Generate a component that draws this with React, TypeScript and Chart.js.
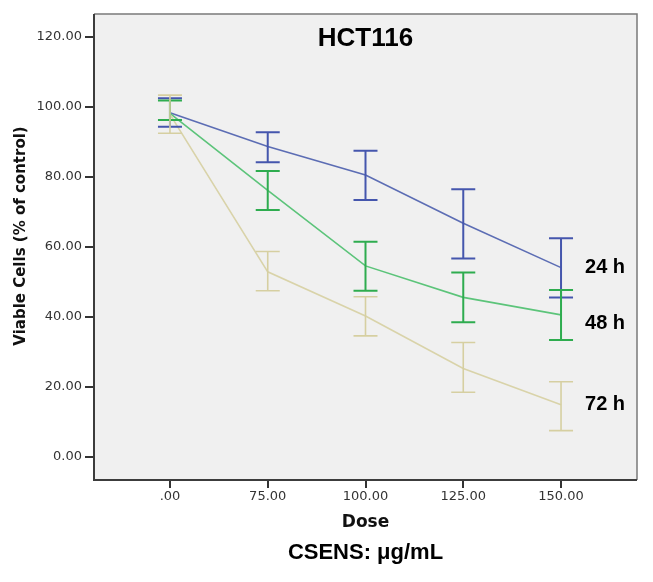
import React, { useEffect, useRef } from "react";
import { Chart, registerables } from "chart.js";

Chart.register(...registerables);

const doseLabels = [".00", "75.00", "100.00", "125.00", "150.00"];
const yTickValues = [0, 20, 40, 60, 80, 100, 120];

const mean24 = [98.4, 88.7, 80.6, 66.8, 54.1];
const low24 = [94.4, 84.2, 73.4, 56.7, 45.6];
const high24 = [102.5, 92.8, 87.5, 76.5, 62.5];

const mean48 = [98.2, 76.2, 54.6, 45.6, 40.6];
const low48 = [96.3, 70.6, 47.5, 38.5, 33.4];
const high48 = [101.9, 81.7, 61.5, 52.7, 47.7];

const mean72 = [97.9, 52.9, 40.3, 25.3, 14.9];
const low72 = [92.5, 47.5, 34.6, 18.5, 7.5];
const high72 = [103.4, 58.7, 45.8, 32.7, 21.5];

const seriesNames = ["24 h", "48 h", "72 h"];

const SERIES = [
  { name: seriesNames[0], mean: mean24, low: low24, high: high24, line: "#5c6db4", bar: "#4556ad", barWidth: 2, labelDy: 0 },
  { name: seriesNames[1], mean: mean48, low: low48, high: high48, line: "#5cc47a", bar: "#2eac4f", barWidth: 2, labelDy: 9 },
  { name: seriesNames[2], mean: mean72, low: low72, high: high72, line: "#d9d3a9", bar: "#d6cfa1", barWidth: 1.6, labelDy: 0 },
];

const plotDecor = {
  id: "plotDecor",
  beforeDraw(chart: any) {
    const { ctx, chartArea } = chart;
    ctx.save();
    ctx.fillStyle = "#f0f0f0";
    ctx.fillRect(chartArea.left, chartArea.top, chartArea.right - chartArea.left, chartArea.bottom - chartArea.top);
    ctx.restore();
  },
  afterDatasetsDraw(chart: any) {
    const { ctx, chartArea, scales } = chart;
    const xs = scales.x;
    const ys = scales.y;
    ctx.save();
    SERIES.forEach((s) => {
      ctx.strokeStyle = s.bar;
      ctx.lineWidth = s.barWidth;
      s.mean.forEach((_, i) => {
        const px = xs.getPixelForValue(i);
        const pl = ys.getPixelForValue(s.low[i]);
        const ph = ys.getPixelForValue(s.high[i]);
        ctx.beginPath();
        ctx.moveTo(px, pl);
        ctx.lineTo(px, ph);
        ctx.moveTo(px - 12, pl);
        ctx.lineTo(px + 12, pl);
        ctx.moveTo(px - 12, ph);
        ctx.lineTo(px + 12, ph);
        ctx.stroke();
      });
    });
    ctx.strokeStyle = "#7a7a7a";
    ctx.lineWidth = 1.5;
    ctx.beginPath();
    ctx.moveTo(chartArea.left, chartArea.top);
    ctx.lineTo(chartArea.right, chartArea.top);
    ctx.lineTo(chartArea.right, chartArea.bottom);
    ctx.stroke();
    ctx.strokeStyle = "#3c3c3c";
    ctx.lineWidth = 2;
    ctx.beginPath();
    ctx.moveTo(chartArea.left, chartArea.top);
    ctx.lineTo(chartArea.left, chartArea.bottom);
    ctx.lineTo(chartArea.right, chartArea.bottom);
    ctx.stroke();
    ctx.restore();
  },
  afterDraw(chart: any) {
    const { ctx, chartArea, scales } = chart;
    const xs = scales.x;
    const ys = scales.y;
    const cx = (chartArea.left + chartArea.right) / 2;
    ctx.save();
    ctx.fillStyle = "#000";
    ctx.textAlign = "center";
    ctx.textBaseline = "middle";
    ctx.font = "bold 26px 'Liberation Sans', Arial, sans-serif";
    ctx.fillText("HCT116", cx, 39);

    ctx.textAlign = "left";
    ctx.font = "bold 20px 'Liberation Sans', Arial, sans-serif";
    SERIES.forEach((s) => {
      const last = s.mean.length - 1;
      const px = xs.getPixelForValue(last) + 24;
      const py = ys.getPixelForValue(s.mean[last]) + s.labelDy;
      ctx.fillText(s.name, px, py);
    });

    ctx.fillStyle = "#111";
    ctx.textAlign = "center";
    ctx.font = "bold 17px 'DejaVu Sans', sans-serif";
    ctx.fillText("Dose", cx, 523);
    ctx.fillStyle = "#000";
    ctx.font = "bold 22px 'Liberation Sans', Arial, sans-serif";
    ctx.fillText("CSENS: \u03bcg/mL", cx, 553);

    ctx.save();
    ctx.translate(21, 236);
    ctx.rotate(-Math.PI / 2);
    ctx.fillStyle = "#111";
    ctx.font = "bold 15px 'DejaVu Sans', sans-serif";
    ctx.fillText("Viable Cells (% of control)", 0, 0);
    ctx.restore();
    ctx.restore();
  },
};

export default function App() {
  const canvasRef = useRef<HTMLCanvasElement | null>(null);

  useEffect(() => {
    const canvas = canvasRef.current;
    if (!canvas) return;
    const chart = new Chart(canvas, {
      type: "line",
      data: {
        datasets: SERIES.slice().reverse().map((s) => ({
          label: s.name,
          data: s.mean.map((v, i) => ({ x: i, y: v })),
          borderColor: s.line,
          backgroundColor: s.line,
          borderWidth: 1.6,
          pointRadius: 0,
          tension: 0,
          fill: false,
        })),
      },
      options: {
        responsive: false,
        animation: false,
        devicePixelRatio: 1,
        layout: { padding: { top: 14, right: 16, left: 0, bottom: 0 } },
        plugins: {
          legend: { display: false },
          title: { display: false },
          tooltip: { enabled: false },
        },
        scales: {
          x: {
            type: "linear",
            min: -0.777,
            max: 4.777,
            afterFit: (scale: any) => {
              scale.height = 102;
            },
            afterBuildTicks: (scale: any) => {
              scale.ticks = doseLabels.map((_, i) => ({ value: i }));
            },
            ticks: {
              callback: (v: any) => doseLabels[Number(v)] ?? "",
              font: { family: "'DejaVu Sans', sans-serif", size: 13 },
              color: "#333",
              padding: 1,
              maxRotation: 0,
              autoSkip: false,
            },
            grid: { drawOnChartArea: false, drawTicks: true, tickLength: 8, color: "#333", lineWidth: 2 },
            border: { display: false },
          },
          y: {
            type: "linear",
            min: -6.6,
            max: 126.6,
            afterFit: (scale: any) => {
              scale.width = 94;
            },
            afterBuildTicks: (scale: any) => {
              scale.ticks = yTickValues.map((v) => ({ value: v }));
            },
            ticks: {
              callback: (v: any) => Number(v).toFixed(2),
              font: { family: "'DejaVu Sans', sans-serif", size: 13 },
              color: "#333",
              padding: 3,
            },
            grid: { drawOnChartArea: false, drawTicks: true, tickLength: 9, color: "#333", lineWidth: 2 },
            border: { display: false },
          },
        },
      },
      plugins: [plotDecor],
    } as any);
    return () => chart.destroy();
  }, []);

  return (
    <div style={{ position: "absolute", left: 0, top: 0, width: 653, height: 582, background: "#fff" }}>
      <canvas ref={canvasRef} width={653} height={582} style={{ width: 653, height: 582 }} />
    </div>
  );
}
